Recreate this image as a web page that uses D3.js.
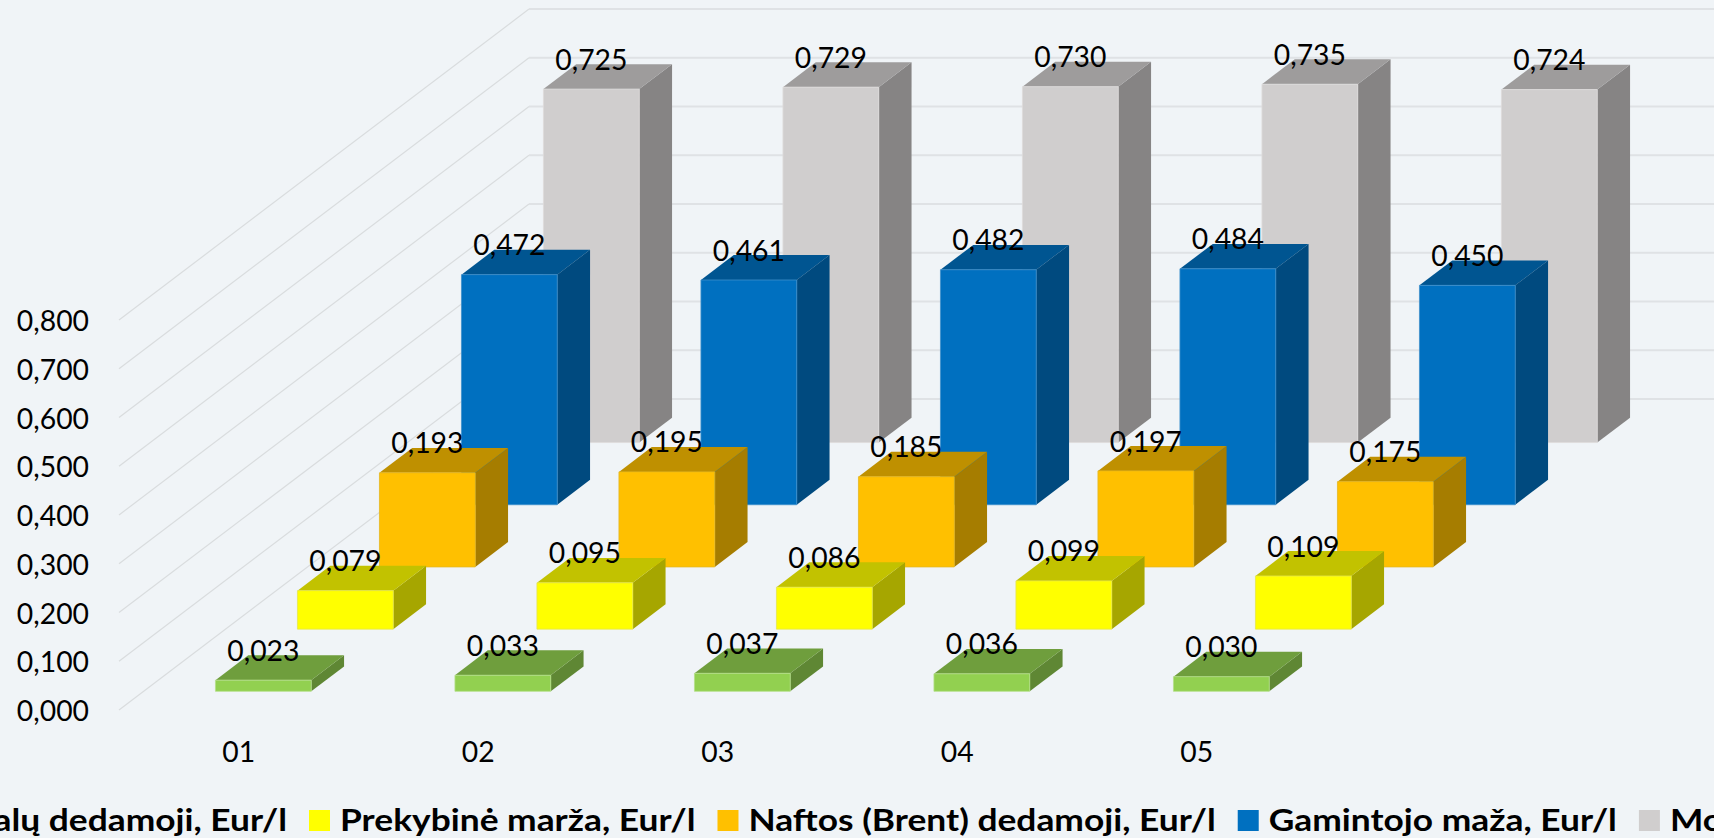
<!DOCTYPE html>
<html><head><meta charset="utf-8">
<style>html,body{margin:0;padding:0;background:#F0F4F7;overflow:hidden}svg{display:block}</style>
<script src="https://cdnjs.cloudflare.com/ajax/libs/d3/7.8.5/d3.min.js"></script>
</head><body><svg id="c" width="1714" height="838"></svg>
<script>
const months = ["01","02","03","04","05"];
const seriesNames = ["Biodegalų dedamoji, Eur/l","Prekybinė marža, Eur/l","Naftos (Brent) dedamoji, Eur/l","Gamintojo maža, Eur/l","Mokesčiai, Eur/l"];
const biodegalai = [0.023,0.033,0.037,0.036,0.030];
const prekybine = [0.079,0.095,0.086,0.099,0.109];
const nafta = [0.193,0.195,0.185,0.197,0.175];
const gamintojo = [0.472,0.461,0.482,0.484,0.450];
const mokesciai = [0.725,0.729,0.730,0.735,0.724];
const yTicks = [0,0.1,0.2,0.3,0.4,0.5,0.6,0.7,0.8];
const seriesValues = [biodegalai,prekybine,nafta,gamintojo,mokesciai];
const frontColors = ["#92D050","#FFFF00","#FFC000","#0070C0","#D0CECE"];
const topColors = ["#6F9E3D","#C2C200","#BF9000","#005591","#9E9C9C"];
const sideColors = ["#5F8734","#A6A600","#A67D00","#004A7F","#868484"];
const edgeColors = ["#B5E08A","#E6E64D","#E6B820","#3D8FCC","#DEDCDC"];

const svg = d3.select("#c");
const font = "Lato, Carlito, 'Open Sans', sans-serif";
const labelSize = 29.5, labelStretch = 0.96;
const legendSize = 31, legendStretch = 1.14;

const x = d3.scaleBand().domain(months).range([119,1316.5]).paddingInner(0.6).paddingOuter(0.3);
const y = d3.scaleLinear().domain([0,0.8]).range([710,320]);
const depthX = d3.scaleLinear().domain([0,5]).range([0,410]);
const depthY = d3.scaleLinear().domain([0,5]).range([0,-311]);
const depth = d3.scaleBand().domain(d3.range(5)).range([0,5]).paddingInner(0.6).paddingOuter(0.3);
const px = (u,w)=>u+depthX(w);
const py = (v,w)=>y(v)+depthY(w);
const line = d3.line();

// walls
const grid = svg.append("g");
yTicks.forEach(t=>{
  grid.append("path").attr("d",line([[px(119,0),py(t,0)],[px(119,5),py(t,5)]]))
    .attr("fill","none").attr("stroke","#D9DCDE").attr("stroke-width",1.2);
  grid.append("path").attr("d",line([[px(119,5),py(t,5)],[1714,py(t,5)]]))
    .attr("fill","none").attr("stroke","#DFE2E5").attr("stroke-width",2);
});

// bars: back series first
const bw = x.bandwidth(), dw = depth.bandwidth();
d3.range(4,-1,-1).forEach(s=>{
  const g = svg.append("g");
  const w0 = depth(s), w1 = w0+dw;
  months.forEach((m,i)=>{
    const v = seriesValues[s][i], l = x(m), r = l+bw;
    g.append("path").attr("d",line([[px(r,w0),py(0,w0)],[px(r,w1),py(0,w1)],[px(r,w1),py(v,w1)],[px(r,w0),py(v,w0)]])+"Z")
      .attr("fill",sideColors[s]);
    g.append("path").attr("d",line([[px(l,w0),py(v,w0)],[px(r,w0),py(v,w0)],[px(r,w1),py(v,w1)],[px(l,w1),py(v,w1)]])+"Z")
      .attr("fill",topColors[s]);
    g.append("path").attr("d",line([[px(l,w0),py(0,w0)],[px(r,w0),py(0,w0)],[px(r,w0),py(v,w0)],[px(l,w0),py(v,w0)]])+"Z")
      .attr("fill",frontColors[s]).attr("stroke",edgeColors[s]).attr("stroke-width",0.8);
  });
});

// axes
const fmt = v=>d3.format(".3f")(v).replace(".",",");
const yAxis = svg.append("g").attr("transform","translate(119,0)")
  .call(d3.axisLeft(y).tickValues(yTicks).tickSize(0).tickPadding(30).tickFormat(fmt));
const xAxis = svg.append("g").attr("transform","translate(0,751)")
  .call(d3.axisBottom(x).tickSize(0).tickPadding(0));
[yAxis,xAxis].forEach(a=>{a.select(".domain").remove();
  a.selectAll("text").attr("font-family",font).attr("font-size",labelSize).attr("fill","#000");});
yAxis.selectAll("text").attr("dy","0.36em");
xAxis.selectAll("text").attr("dy","0.36em");

// value labels
const labels = svg.append("g").attr("font-family",font).attr("font-size",labelSize).attr("fill","#000").attr("text-anchor","middle");
d3.range(5).forEach(s=>months.forEach((m,i)=>{
  const v = seriesValues[s][i];
  labels.append("text").attr("x",px(x(m)+bw/2,depth(s))).attr("y",py(v,depth(s))-30).attr("dy","0.36em").text(fmt(v));
}));

// horizontal stretch of axis and value texts
svg.selectAll("text").each(function(){
  this.setAttribute("textLength",this.getComputedTextLength()*labelStretch);
  this.setAttribute("lengthAdjust","spacingAndGlyphs");
});

// legend
const legend = svg.append("g").attr("font-family",font).attr("font-size",legendSize).attr("font-weight",700).attr("fill","#000");
const items = seriesNames.map((n,i)=>{
  const t = legend.append("text").attr("y",820).attr("dy","0.36em").text(n);
  const w = t.node().getComputedTextLength()*legendStretch;
  t.attr("textLength",w).attr("lengthAdjust","spacingAndGlyphs");
  return {t,i,w};
});
let cx = 309 - items[0].w - 31 - 22;
items.forEach(it=>{
  legend.append("rect").attr("x",cx).attr("y",810).attr("width",21).attr("height",21).attr("fill",frontColors[it.i]);
  it.t.attr("x",cx+31);
  cx += 31 + it.w + 22;
});
</script></body></html>
